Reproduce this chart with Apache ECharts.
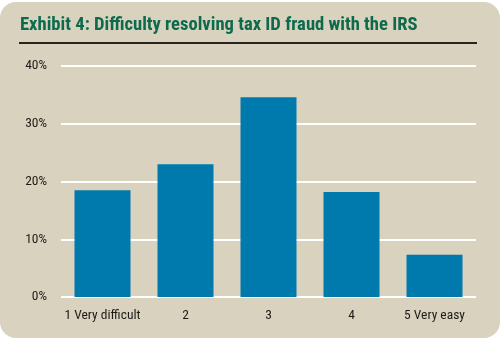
<!DOCTYPE html>
<html><head><meta charset="utf-8">
<script src="https://cdn.jsdelivr.net/npm/echarts@6/dist/echarts.min.js"></script>
<style>html,body{margin:0;padding:0;background:#fff;}#c{width:502px;height:340px;}</style>
</head><body><div id="c"></div>
<script>
const titleText = 'Exhibit 4: Difficulty resolving tax ID fraud with the IRS';
const categories = ['1 Very difficult', '2', '3', '4', '5 Very easy'];
const values = [18.5, 23.0, 34.6, 18.2, 7.3];
const yTicks = [0, 10, 20, 30, 40];

const chart = echarts.init(document.getElementById('c'), null, {renderer: 'canvas'});
const font = '"Liberation Sans Narrow", "Roboto Condensed", "Liberation Sans", sans-serif';
chart.setOption({
  animation: false,
  backgroundColor: '#ffffff',
  graphic: [
    {type: 'rect', z: -10, shape: {x: 0, y: 2, width: 500, height: 336, r: 16}, style: {fill: '#d8d2bf'}},
    {type: 'text', left: 20, top: 16, style: {text: titleText, fill: '#0e6a4c', font: 'bold 18.6px ' + font}},
    {type: 'rect', shape: {x: 19, y: 42, width: 458, height: 2}, style: {fill: '#27251d'}}
  ],
  grid: {left: 61, right: 26, top: 66, bottom: 43},
  xAxis: {
    type: 'category', data: categories,
    axisLine: {show: false}, axisTick: {show: false},
    axisLabel: {interval: 0, color: '#1e1b17', fontFamily: font, fontSize: 13.5, margin: 12}
  },
  yAxis: {
    type: 'value', min: 0, max: 40, interval: 10,
    axisLine: {show: false}, axisTick: {show: false},
    axisLabel: {color: '#1e1b17', fontFamily: font, fontSize: 13.5, margin: 14,
      formatter: v => yTicks.includes(v) ? v + '%' : ''},
    splitLine: {lineStyle: {color: '#ffffff', width: 2}}
  },
  series: [{
    type: 'bar', data: values, barWidth: 56,
    itemStyle: {color: '#007aad'}
  }]
});
</script></body></html>
